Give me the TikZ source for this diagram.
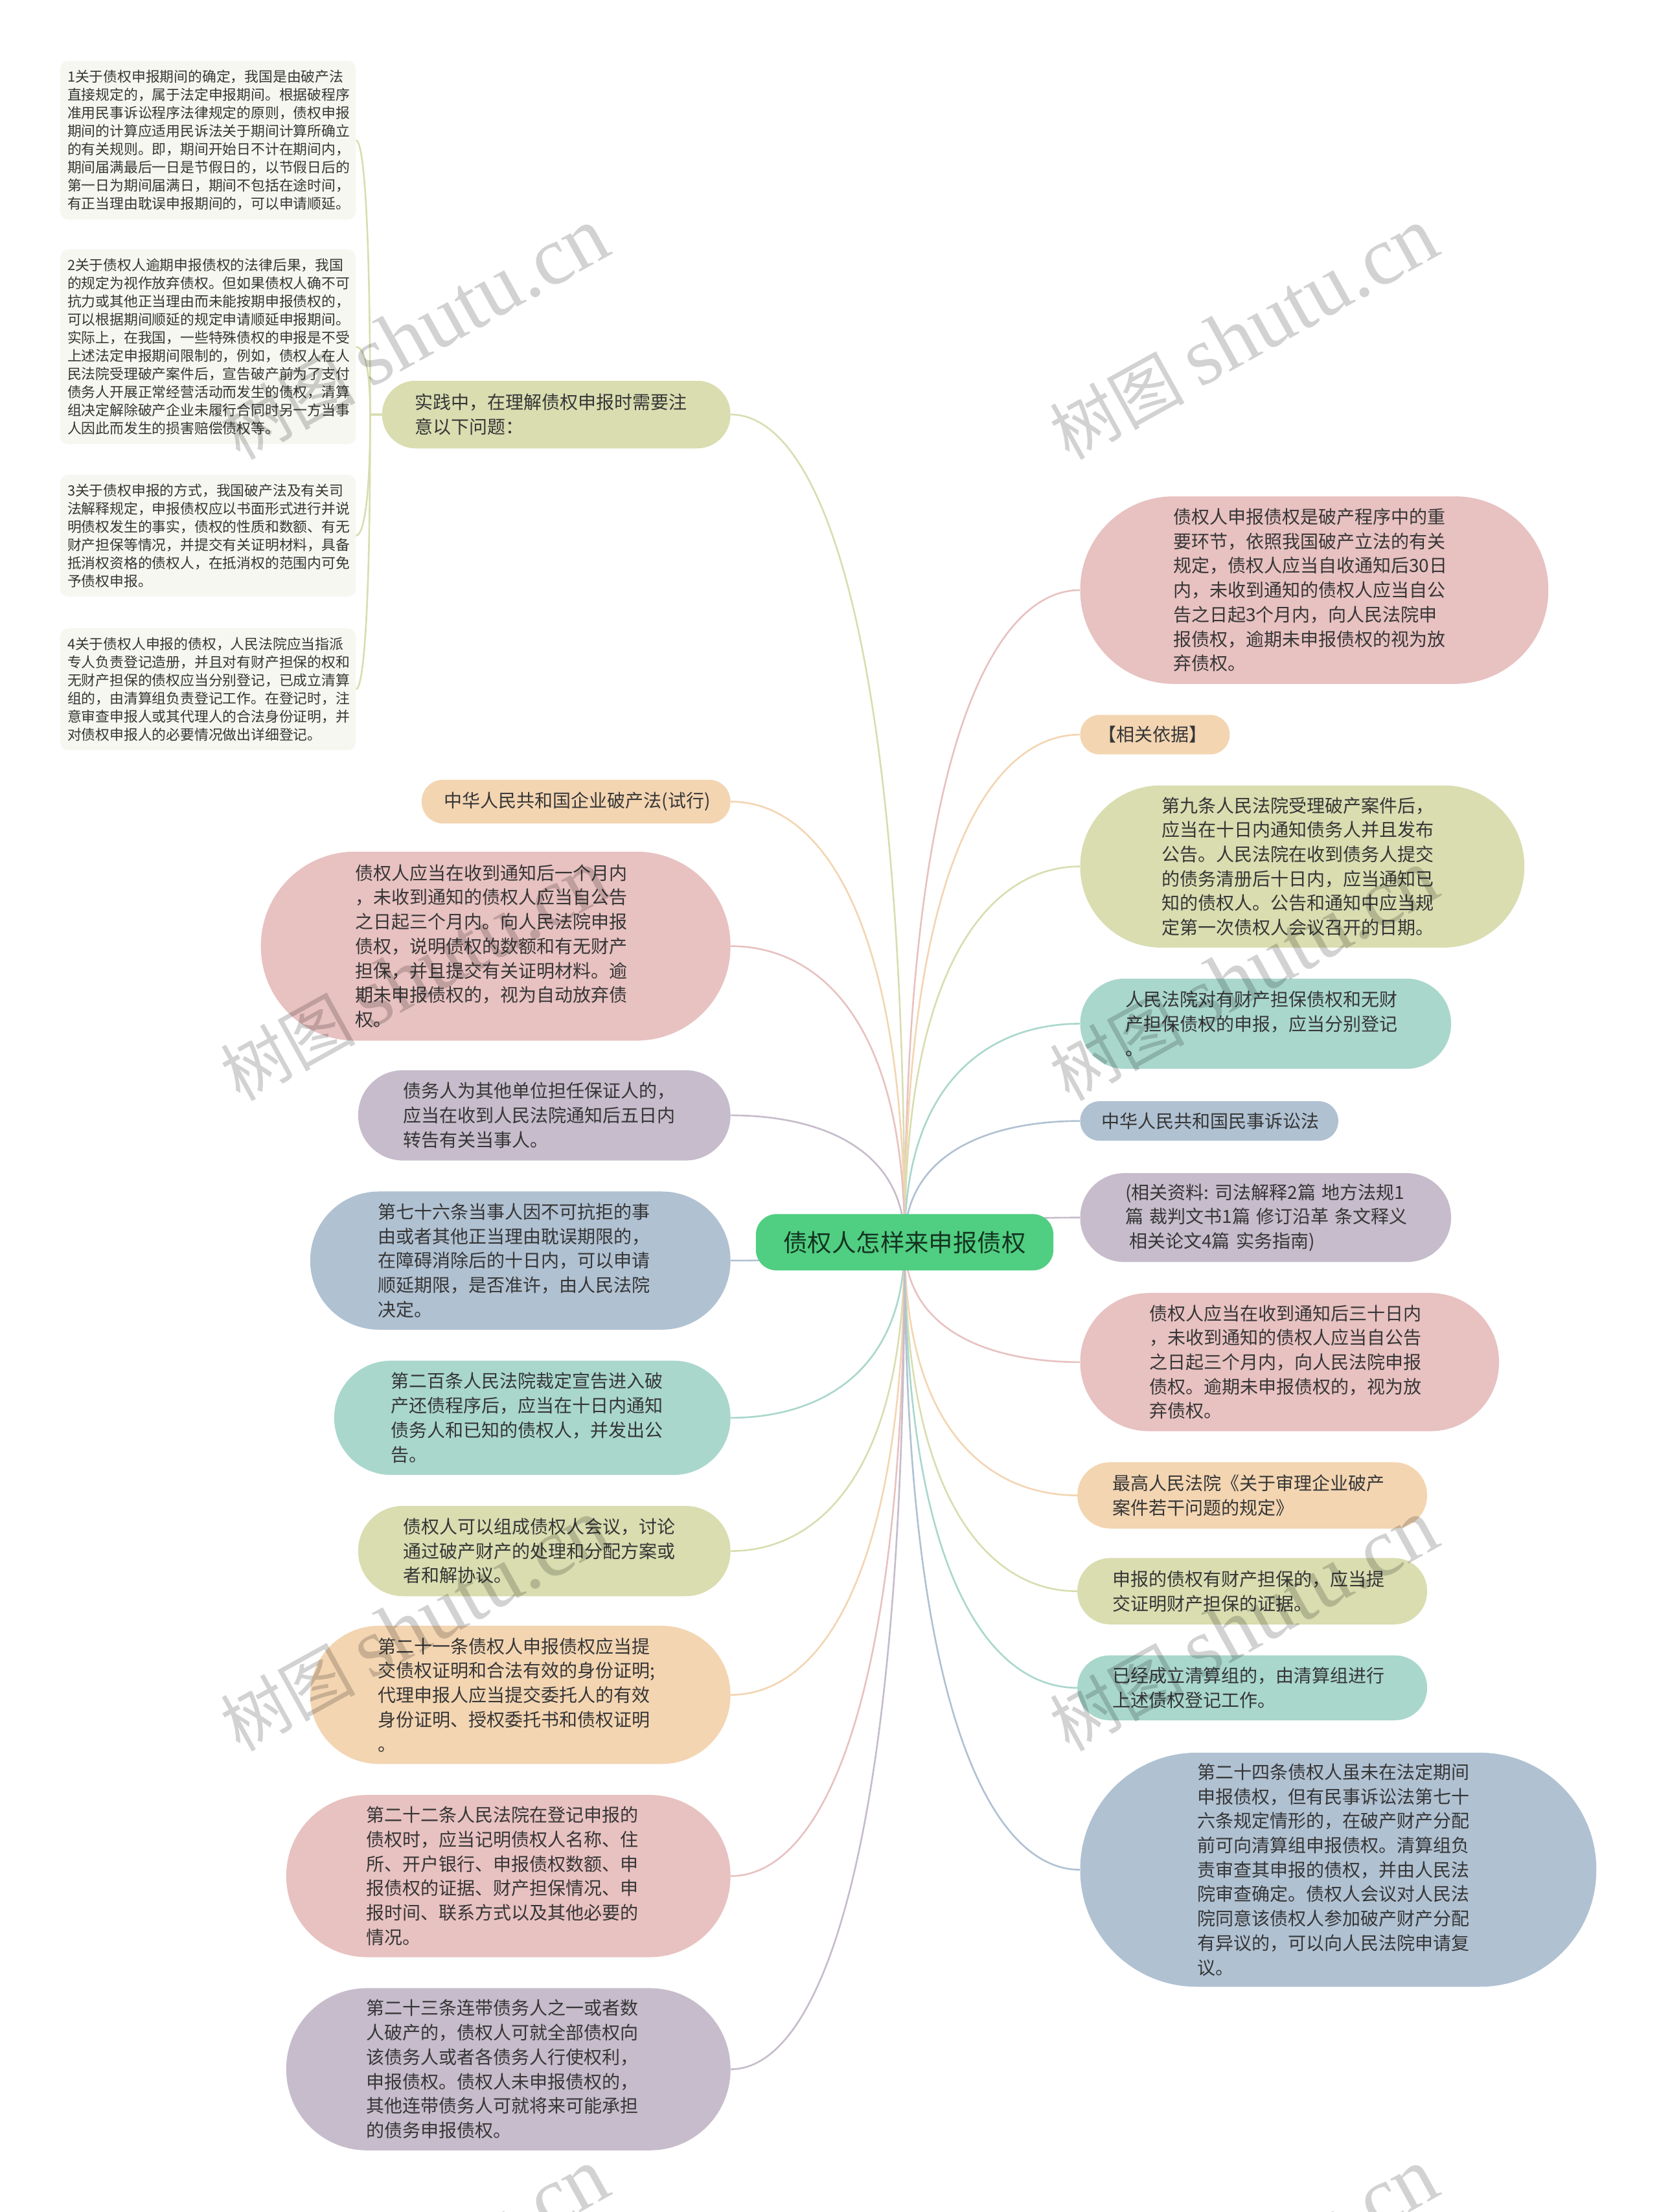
\documentclass[tikz,border=0pt]{standalone}
\usepackage{fontspec}
\setmainfont{Noto Sans CJK SC}
\newfontfamily\wmlatin{Liberation Serif}
\usetikzlibrary{calc}
\pgfdeclarelayer{bg}
\pgfsetlayers{bg,main}
\definecolor{colOlive}{HTML}{D9DDB0}
\definecolor{colPink}{HTML}{E8C1C1}
\definecolor{colOrange}{HTML}{F3D5B2}
\definecolor{colTeal}{HTML}{A9D7CC}
\definecolor{colPurple}{HTML}{C6BCCB}
\definecolor{colBlue}{HTML}{B0C1D2}
\definecolor{colCentre}{HTML}{50CE82}
\definecolor{colSmall}{HTML}{F6F7F0}
\definecolor{colText}{HTML}{363636}
\definecolor{colMark}{HTML}{D2D2D2}
\tikzset{
  boxnode/.style={draw=none,rectangle,inner ysep=0pt,align=left,text=colText,
    font=\fontsize{14}{18.85}\selectfont},
  smallnode/.style={boxnode,font=\fontsize{10.9}{14}\selectfont},
  link/.style={line width=1.3pt},
  wmark/.style={text=colMark,rotate=29,font=\fontsize{52}{60}\selectfont}
}
\newcommand\nd[8]{%
  \pgfmathsetmacro\myw{(#4-#2-2*(#7-#2))*1.08844}%
  \pgfmathsetmacro\myh{(#5-#3)*1.08844}%
  \pgfmathsetmacro\myp{(#7-#2)*1.08844}%
  \pgfmathsetmacro\myr{\myh/2-0.3}%
  \node[boxnode,fill=#6,rounded corners=\myr pt,text width=\myw pt,inner xsep=\myp pt,minimum height=\myh pt] (#1) at ({(#2+#4)/2},{(#3+#5)/2}) {#8};}
\newcommand\sd[4]{%
  \pgfmathsetmacro\myh{(#3-#2)*1.08844}%
  \node[smallnode,fill=colSmall,rounded corners=6pt,text width=217pt,inner xsep=5.5pt,minimum height=\myh pt] (#1) at (147.5,{(#2+#3)/2}) {#4};}
% curved connectors from the central node
\newcommand\lk[3]{\draw[link,#3] (c.center) .. controls ($(c.center)!.75!(c.center |- #1.#2)$) and ($(c.center |- #1.#2)!.5!(#1.#2)$) .. (#1.#2);}
\begin{document}
\begin{tikzpicture}[x=1.08844pt,y=-1.08844pt]
\begin{pgfonlayer}{bg}
\path[fill=white] (0,0) rectangle (1176,1568.76);
\end{pgfonlayer}
\path[use as bounding box] (0,0) rectangle (1176,1568.76);

\node[boxnode,fill=colCentre,rounded corners=16pt,minimum width=229.7pt,minimum height=43.5pt,inner xsep=0pt,align=center,text=black!75!colCentre,font=\fontsize{18.7}{24}\selectfont] (c) at (641.5,881) {债权人怎样来申报债权};

% right side
\nd{ra}{766}{352}{1098}{485}{colPink}{832}{债权人申报债权是破产程序中的重\\要环节，依照我国破产立法的有关\\规定，债权人应当自收通知后30日\\内，未收到通知的债权人应当自公\\告之日起3个月内，向人民法院申\\报债权，逾期未申报债权的视为放\\弃债权。}
\nd{rb}{766}{507}{872}{535}{colOrange}{779}{【相关依据】}
\nd{rc}{766}{557}{1081}{672}{colOlive}{824}{第九条人民法院受理破产案件后，\\应当在十日内通知债务人并且发布\\公告。人民法院在收到债务人提交\\的债务清册后十日内，应当通知已\\知的债权人。公告和通知中应当规\\定第一次债权人会议召开的日期。}
\nd{rd}{766}{694}{1029}{758}{colTeal}{798}{人民法院对有财产担保债权和无财\\产担保债权的申报，应当分别登记\\。}
\nd{re}{766}{781}{949}{809}{colBlue}{781}{中华人民共和国民事诉讼法}
\nd{rf}{766}{832}{1029}{895}{colPurple}{798}{(相关资料:~司法解释2篇~地方法规1\\篇~裁判文书1篇~修订沿革~条文释义\\\hspace*{3pt}相关论文4篇~实务指南)}
\nd{rg}{766}{917}{1063}{1015}{colPink}{815}{债权人应当在收到通知后三十日内\\，未收到通知的债权人应当自公告\\之日起三个月内，向人民法院申报\\债权。逾期未申报债权的，视为放\\弃债权。}
\nd{rh}{764}{1037}{1012}{1084}{colOrange}{789}{最高人民法院《关于审理企业破产\\案件若干问题的规定》}
\nd{ri}{764}{1105}{1012}{1152}{colOlive}{789}{申报的债权有财产担保的，应当提\\交证明财产担保的证据。}
\nd{rj}{764}{1174}{1012}{1220}{colTeal}{789}{已经成立清算组的，由清算组进行\\上述债权登记工作。}
\nd{rk}{766}{1243}{1132}{1409}{colBlue}{849}{第二十四条债权人虽未在法定期间\\申报债权，但有民事诉讼法第七十\\六条规定情形的，在破产财产分配\\前可向清算组申报债权。清算组负\\责审查其申报的债权，并由人民法\\院审查确定。债权人会议对人民法\\院同意该债权人参加破产财产分配\\有异议的，可以向人民法院申请复\\议。}

% left side
\nd{la}{271}{270}{518}{318}{colOlive}{294}{实践中，在理解债权申报时需要注\\意以下问题：}
\nd{lb}{299}{553}{518}{584}{colOrange}{315}{中华人民共和国企业破产法(试行)}
\nd{lc}{185}{604}{518}{738}{colPink}{252}{债权人应当在收到通知后一个月内\\，未收到通知的债权人应当自公告\\之日起三个月内。向人民法院申报\\债权，说明债权的数额和有无财产\\担保，并且提交有关证明材料。逾\\期未申报债权的，视为自动放弃债\\权。}
\nd{ld}{254}{759}{518}{823}{colPurple}{286}{债务人为其他单位担任保证人的，\\应当在收到人民法院通知后五日内\\转告有关当事人。}
\nd{le}{220}{845}{518}{943}{colBlue}{268}{第七十六条当事人因不可抗拒的事\\由或者其他正当理由耽误期限的，\\在障碍消除后的十日内，可以申请\\顺延期限，是否准许，由人民法院\\决定。}
\nd{lf}{237}{965}{518}{1046}{colTeal}{277}{第二百条人民法院裁定宣告进入破\\产还债程序后，应当在十日内通知\\债务人和已知的债权人，并发出公\\告。}
\nd{lg}{254}{1068}{518}{1132}{colOlive}{286}{债权人可以组成债权人会议，讨论\\通过破产财产的处理和分配方案或\\者和解协议。}
\nd{lh}{220}{1153}{518}{1251}{colOrange}{268}{第二十一条债权人申报债权应当提\\交债权证明和合法有效的身份证明;\\代理申报人应当提交委托人的有效\\身份证明、授权委托书和债权证明\\。}
\nd{li}{203}{1273}{518}{1388}{colPink}{260}{第二十二条人民法院在登记申报的\\债权时，应当记明债权人名称、住\\所、开户银行、申报债权数额、申\\报债权的证据、财产担保情况、申\\报时间、联系方式以及其他必要的\\情况。}
\nd{lj}{203}{1410}{518}{1525}{colPurple}{260}{第二十三条连带债务人之一或者数\\人破产的，债权人可就全部债权向\\该债务人或者各债务人行使权利，\\申报债权。债权人未申报债权的，\\其他连带债务人可就将来可能承担\\的债务申报债权。}

% small notes
\sd{sa}{43.2}{155.7}{1关于债权申报期间的确定，我国是由破产法\\直接规定的，属于法定申报期间。根据破程序\\准用民事诉讼程序法律规定的原则，债权申报\\期间的计算应适用民诉法关于期间计算所确立\\的有关规则。即，期间开始日不计在期间内，\\期间届满最后一日是节假日的，以节假日后的\\第一日为期间届满日，期间不包括在途时间，\\有正当理由耽误申报期间的，可以申请顺延。}
\sd{sb}{176.9}{315}{2关于债权人逾期申报债权的法律后果，我国\\的规定为视作放弃债权。但如果债权人确不可\\抗力或其他正当理由而未能按期申报债权的，\\可以根据期间顺延的规定申请顺延申报期间。\\实际上，在我国，一些特殊债权的申报是不受\\上述法定申报期间限制的，例如，债权人在人\\民法院受理破产案件后，宣告破产前为了支付\\债务人开展正常经营活动而发生的债权，清算\\组决定解除破产企业未履行合同时另一方当事\\人因此而发生的损害赔偿债权等。}
\sd{sc}{336.7}{423}{3关于债权申报的方式，我国破产法及有关司\\法解释规定，申报债权应以书面形式进行并说\\明债权发生的事实，债权的性质和数额、有无\\财产担保等情况，并提交有关证明材料，具备\\抵消权资格的债权人，在抵消权的范围内可免\\予债权申报。}
\sd{sd}{445.6}{532}{4关于债权人申报的债权，人民法院应当指派\\专人负责登记造册，并且对有财产担保的权和\\无财产担保的债权应当分别登记，已成立清算\\组的，由清算组负责登记工作。在登记时，注\\意审查申报人或其代理人的合法身份证明，并\\对债权申报人的必要情况做出详细登记。}

\begin{pgfonlayer}{bg}
\lk{ra}{west}{colPink}\lk{rb}{west}{colOrange}\lk{rc}{west}{colOlive}\lk{rd}{west}{colTeal}
\lk{re}{west}{colBlue}\lk{rf}{west}{colPurple}\lk{rg}{west}{colPink}\lk{rh}{west}{colOrange}
\lk{ri}{west}{colOlive}\lk{rj}{west}{colTeal}\lk{rk}{west}{colBlue}
\lk{la}{east}{colOlive}\lk{lb}{east}{colOrange}\lk{lc}{east}{colPink}\lk{ld}{east}{colPurple}
\lk{le}{east}{colBlue}\lk{lf}{east}{colTeal}\lk{lg}{east}{colOlive}\lk{lh}{east}{colOrange}
\lk{li}{east}{colPink}\lk{lj}{east}{colPurple}
\coordinate (bend) at (262.5,294);
\foreach \s in {sa,sb,sc,sd}{
  \draw[link,colOlive] (la.west) -- (bend) .. controls ($(bend)!.75!(bend |- \s.east)$) and ($(bend |- \s.east)!.5!(\s.east)$) .. (\s.east);
}
\end{pgfonlayer}

% watermark
\begin{scope}[blend mode=multiply]
\foreach \px/\py in {294/237,882/237,294/692,882/692,294/1153,882/1153,294/1613,882/1613}{
  \node[wmark] at (\px,\py) {树图 {\wmlatin\fontsize{64}{70}\selectfont shutu.cn}};
}
\end{scope}
\end{tikzpicture}
\end{document}
